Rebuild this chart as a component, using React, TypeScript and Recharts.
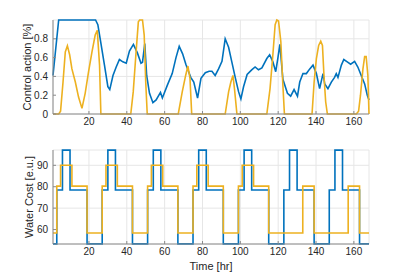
import { LineChart, Line, XAxis, YAxis, CartesianGrid } from 'recharts';

// control action (top panel)
const blueCtrlT = [1, 4, 23.5, 24.7, 26.5, 28.2, 30, 31, 32.7, 34.4, 36.1, 37.9, 39.7, 41.4, 43.5, 45.6, 47.5, 48.3, 49.5, 50.5, 52, 53.8, 55.5, 57.8, 58.8, 61.5, 64, 66, 67.7, 69.5, 71.2, 73.8, 75.4, 77.4, 79.2, 81.5, 83.5, 85, 86.7, 88.5, 90.3, 92, 93.8, 95.5, 97.3, 99.1, 100.3, 101.7, 103.6, 106, 107.8, 109.6, 111.4, 114, 115.5, 117.2, 118.7, 119.8, 120.9, 122.5, 124.9, 126.6, 128.4, 130.2, 131.4, 133.1, 134.9, 136.7, 138.4, 140.2, 141.9, 143.7, 144.6, 146.3, 148.1, 149.8, 150.7, 151.6, 153.4, 154.7, 156.5, 158.3, 160.4, 162.1, 163.9, 165.7, 167.1, 168];
const blueCtrlV = [0.41, 1.0, 1.0, 0.95, 0.73, 0.52, 0.29, 0.26, 0.41, 0.5, 0.58, 0.555, 0.54, 0.67, 0.74, 0.65, 0.54, 0.55, 0.75, 0.41, 0.22, 0.12, 0.15, 0.23, 0.17, 0.31, 0.43, 0.6, 0.72, 0.64, 0.53, 0.39, 0.34, 0.17, 0.38, 0.44, 0.455, 0.455, 0.41, 0.48, 0.56, 0.8, 0.71, 0.555, 0.39, 0.235, 0.16, 0.29, 0.42, 0.47, 0.5, 0.47, 0.49, 0.59, 0.63, 0.555, 0.45, 0.59, 0.74, 0.37, 0.22, 0.19, 0.26, 0.19, 0.34, 0.43, 0.43, 0.48, 0.52, 0.43, 0.27, 0.43, 0.32, 0.27, 0.34, 0.39, 0.43, 0.39, 0.52, 0.58, 0.555, 0.53, 0.56, 0.5, 0.41, 0.32, 0.2, 0.15];

const orangeCtrlT = [1, 4, 5, 6.3, 7.5, 8.6, 9.8, 11, 12.8, 14.5, 16.3, 18, 19.8, 21.6, 23.3, 24.4, 25.6, 26.3, 42.1, 43.4, 44.8, 46.1, 46.8, 48.3, 49.2, 50, 50.8, 67.2, 69.3, 71.1, 72.3, 73.4, 74.3, 92, 93.8, 95, 96.1, 97, 98.2, 114, 115.7, 117.2, 118.4, 119.3, 120.2, 121.4, 122.4, 123.3, 137.9, 139, 140.2, 141.4, 142.5, 143.4, 144.2, 145.1, 146, 161.3, 162.5, 163.5, 164.8, 165.7, 166.5, 167.4, 168];
const orangeCtrlV = [0, 0, 0.03, 0.34, 0.66, 0.725, 0.63, 0.48, 0.34, 0.18, 0.06, 0.22, 0.45, 0.66, 0.84, 0.89, 0.52, 0, 0, 0.235, 0.63, 0.98, 1.0, 1.0, 0.84, 0.34, 0, 0, 0.235, 0.41, 0.51, 0.38, 0, 0, 0.235, 0.34, 0.41, 0.25, 0, 0, 0.27, 0.63, 0.95, 1.0, 0.99, 0.77, 0.34, 0, 0, 0.34, 0.59, 0.73, 0.775, 0.73, 0.41, 0.13, 0, 0, 0.03, 0.2, 0.48, 0.61, 0.61, 0.41, 0];

// water cost (bottom panel), step changes
const blueCostT = [1, 3, 6, 10, 19, 27, 30, 34, 43, 51, 54, 58, 67, 75, 78, 82, 91, 99, 102, 106, 115, 123, 126, 130, 139, 147, 150, 154, 163, 168];
const blueCostV = [53.3, 78.5, 97.1, 78.5, 53.3, 78.5, 97.1, 78.5, 53.3, 78.5, 97.1, 78.5, 53.3, 78.5, 97.1, 78.5, 53.3, 78.5, 97.1, 78.5, 53.3, 78.5, 97.1, 78.5, 53.3, 78.5, 97.1, 78.5, 53.3, 53.3];

const orangeCostT = [1, 3, 5, 11, 19, 27, 29, 35, 43, 51, 53, 59, 67, 75, 77, 83, 91, 99, 101, 107, 115, 133, 139, 157, 163, 168];
const orangeCostV = [58.4, 80.3, 90, 80.3, 58.4, 80.3, 90, 80.3, 58.4, 80.3, 90, 80.3, 58.4, 80.3, 90, 80.3, 58.4, 80.3, 90, 80.3, 58.4, 80.3, 58.4, 80.3, 58.4, 58.4];

const xTicks = [20, 40, 60, 80, 100, 120, 140, 160];
const ctrlTicks = [0, 0.2, 0.4, 0.6, 0.8];
const costTicks = [60, 70, 80, 90];

const BLUE = '#0072BD';
const ORANGE = '#EDB120';
const AXIS = '#8a8a8a';
const GRID = '#e6e6e6';
const TXT = '#262626';

const zip = (t: number[], v: number[]) => t.map((x, i) => ({ t: x, v: v[i] }));

export default function App() {
  const tick = { fontSize: 10, fill: TXT };
  const labelStyle = { textAnchor: 'middle' as const, fontSize: 11, fill: TXT };
  return (
    <div style={{ position: 'absolute', left: 0, top: 0, width: 407, height: 274, background: '#fff', fontFamily: '"Liberation Sans", Arial, sans-serif' }}>
      <div style={{ position: 'absolute', left: 0, top: 0 }}>
        <LineChart width={407} height={137} margin={{ top: 20, right: 38, bottom: 3, left: 0 }}>
          <CartesianGrid stroke={GRID} strokeWidth={1} />
          <XAxis type="number" dataKey="t" domain={[1, 168]} ticks={xTicks} height={20}
            tick={tick} tickSize={-3} tickMargin={7} stroke={AXIS} allowDuplicatedCategory={false} />
          <YAxis type="number" domain={[0, 1]} ticks={ctrlTicks} width={53}
            tick={tick} tickSize={-3} tickMargin={8} stroke={AXIS}
            tickFormatter={(v: number) => (v === 0 ? '0' : v.toFixed(1))}
            label={{ value: 'Control action [%]', angle: -90, position: 'insideLeft', offset: 27, style: labelStyle }} />
          <Line data={zip(blueCtrlT, blueCtrlV)} dataKey="v" type="linear" stroke={BLUE} strokeWidth={1.6} dot={false} isAnimationActive={false} />
          <Line data={zip(orangeCtrlT, orangeCtrlV)} dataKey="v" type="linear" stroke={ORANGE} strokeWidth={1.6} dot={false} isAnimationActive={false} />
        </LineChart>
      </div>
      <div style={{ position: 'absolute', left: 0, top: 137 }}>
        <LineChart width={407} height={137} margin={{ top: 13, right: 38, bottom: 0, left: 0 }}>
          <CartesianGrid stroke={GRID} strokeWidth={1} />
          <XAxis type="number" dataKey="t" domain={[1, 168]} ticks={xTicks} height={30}
            tick={tick} tickSize={-3} tickMargin={7} stroke={AXIS} allowDuplicatedCategory={false}
            label={{ value: 'Time [hr]', position: 'insideBottom', offset: 4, style: labelStyle }} />
          <YAxis type="number" domain={[53.25, 97.15]} ticks={costTicks} width={53}
            tick={tick} tickSize={-3} tickMargin={8} stroke={AXIS}
            label={{ value: 'Water Cost [e.u.]', angle: -90, position: 'insideLeft', offset: 29, style: labelStyle }} />
          <Line data={zip(blueCostT, blueCostV)} dataKey="v" type="stepAfter" stroke={BLUE} strokeWidth={1.6} dot={false} isAnimationActive={false} />
          <Line data={zip(orangeCostT, orangeCostV)} dataKey="v" type="stepAfter" stroke={ORANGE} strokeWidth={1.6} dot={false} isAnimationActive={false} />
        </LineChart>
      </div>
    </div>
  );
}
